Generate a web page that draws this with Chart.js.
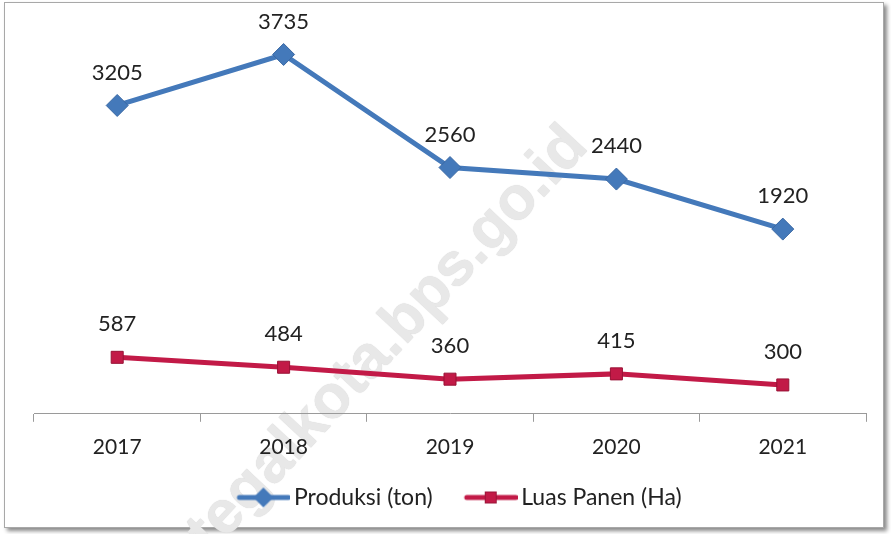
<!DOCTYPE html>
<html>
<head>
<meta charset="utf-8">
<script src="https://cdn.jsdelivr.net/npm/chart.js@4.4.0/dist/chart.umd.min.js"></script>
<style>
  html, body { margin:0; padding:0; background:#fff; }
  #wrap { position:relative; width:891px; height:534px; overflow:hidden; background:#fff; }
  #frame { position:absolute; left:4px; top:2px; width:878px; height:524px; border:1px solid #a8a8a8; box-shadow:3px 3px 4px #8a8a8a; background:#fff; }
  #wm { position:absolute; left:385px; top:337px; font:bold 61px Arial, "Liberation Sans", sans-serif; color:#e8e8e8; white-space:nowrap;
        transform:translate(-50%,-50%) rotate(-47deg); text-shadow:0 0 1px #d0d0d0; }
  #cv { position:absolute; left:0; top:0; }
</style>
</head>
<body>
<div id="wrap">
  <div id="frame"></div>
  <div id="wm">tegalkota.bps.go.id</div>
  <canvas id="cv" width="891" height="534"></canvas>
</div>
<script>
// data
const years = ['2017', '2018', '2019', '2020', '2021'];
const produksi = [3205, 3735, 2560, 2440, 1920];
const luasPanen = [587, 484, 360, 415, 300];

const blue = '#4479ba', red = '#c21a47';
const fontFam = 'Lato, "Open Sans", sans-serif';

// legend swatch: line + marker in the right part of an 80px image
function swatch(color, shape) {
  const c = document.createElement('canvas');
  c.width = 80; c.height = 22;
  const g = c.getContext('2d');
  g.strokeStyle = color; g.lineWidth = 5; g.lineCap = 'round';
  g.beginPath(); g.moveTo(29, 11); g.lineTo(78, 11); g.stroke();
  g.fillStyle = color;
  if (shape === 'diamond') {
    g.beginPath(); g.moveTo(53, 1); g.lineTo(63, 11); g.lineTo(53, 21); g.lineTo(43, 11); g.closePath(); g.fill();
  } else {
    g.fillRect(47, 5, 12, 12);
    g.strokeStyle = '#9a1438'; g.lineWidth = 1; g.strokeRect(47.5, 5.5, 11, 11);
  }
  return c;
}

const valueLabels = {
  id: 'valueLabels',
  afterDatasetsDraw(chart) {
    const ctx = chart.ctx;
    ctx.save();
    ctx.font = '22px ' + fontFam;
    ctx.fillStyle = '#222';
    ctx.textAlign = 'center';
    ctx.textBaseline = 'middle';
    chart.data.datasets.forEach((ds, i) => {
      chart.getDatasetMeta(i).data.forEach((pt, j) => {
        ctx.fillText(ds.data[j], pt.x, pt.y - 33);
      });
    });
    ctx.restore();
  }
};

new Chart(document.getElementById('cv'), {
  type: 'line',
  data: {
    labels: years,
    datasets: [
      {label:'Produksi (ton)', data:produksi, borderColor:blue, backgroundColor:blue, borderWidth:5,
       pointStyle:'rectRot', pointRadius:11, pointBorderColor:'#3a68a3', pointBorderWidth:1, tension:0},
      {label:'Luas Panen (Ha)', data:luasPanen, borderColor:red, backgroundColor:red, borderWidth:5,
       pointStyle:'rect', pointRadius:8.5, pointBorderColor:'#981235', pointBorderWidth:1, tension:0}
    ]
  },
  options: {
    responsive:false, animation:false, devicePixelRatio:1,
    layout:{padding:{left:34, right:25, top:29, bottom:15}},
    plugins:{
      tooltip:{enabled:false},
      legend:{position:'bottom', labels:{
        usePointStyle:true, pointStyleWidth:64, padding:13, color:'#222',
        font:{family:fontFam, size:23},
        generateLabels: chart => chart.data.datasets.map((ds, i) => ({
          text: ds.label, pointStyle: swatch(ds.borderColor, i === 0 ? 'diamond' : 'square'),
          fillStyle: ds.borderColor, strokeStyle: ds.borderColor, lineWidth: 0, datasetIndex: i, fontColor:'#222'
        }))
      }}
    },
    scales:{
      x:{offset:true,
         border:{display:true, color:'#9a9a9a', width:1},
         grid:{offset:true, drawOnChartArea:false, drawTicks:true, tickLength:8, color:'#9a9a9a'},
         ticks:{color:'#222', padding:13, font:{family:fontFam, size:21}}},
      y:{display:false, min:0, max:4000}
    }
  },
  plugins:[valueLabels]
});
</script>
</body>
</html>
